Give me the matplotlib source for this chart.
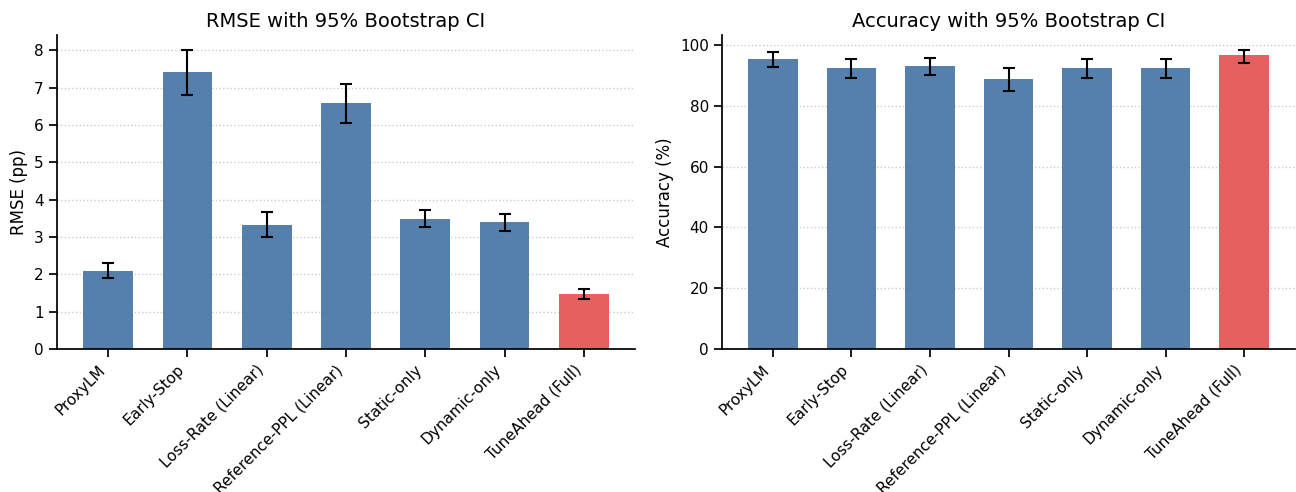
import numpy as np
import matplotlib
matplotlib.use("Agg")
import matplotlib.pyplot as plt


# -----------------------------
# Dados
# -----------------------------
methods = ["ProxyLM", "Early-Stop", "Loss-Rate (Linear)", "Reference-PPL (Linear)",
           "Static-only", "Dynamic-only", "TuneAhead (Full)"]

rmse = [2.10, 7.41, 3.33, 6.58, 3.49, 3.39, 1.46]
rmse_lo = [1.91, 6.81, 2.99, 6.05, 3.28, 3.15, 1.34]
rmse_hi = [2.31, 8.01, 3.66, 7.10, 3.71, 3.61, 1.60]

acc = [95.3, 92.4, 93.0, 88.8, 92.4, 92.4, 96.6]
acc_lo = [92.8, 89.1, 90.1, 85.0, 89.1, 89.1, 94.2]
acc_hi = [97.7, 95.4, 95.9, 92.5, 95.4, 95.4, 98.4]

BLUE = "#4C78A8"
RED = "#E45756"

W, H = 1296, 492


def plot_painel(ax, vals, lo, hi, title, ylabel):
    vals = np.array(vals)
    err = np.array([vals - np.array(lo), np.array(hi) - vals])
    x = np.arange(len(methods))
    cores = [BLUE] * (len(methods) - 1) + [RED]
    ax.bar(x, vals, width=0.63, color=cores, alpha=0.95, zorder=2)
    ax.errorbar(x, vals, yerr=err, fmt="none", ecolor="black", elinewidth=1.5,
                capsize=4, capthick=1.5, zorder=3)
    ax.set_title(title, fontsize=14)
    ax.set_ylabel(ylabel, fontsize=12)
    ax.set_xticks(x)
    ax.set_xticklabels(methods, rotation=45, ha="right", fontsize=11)
    ax.tick_params(axis="both", length=6, width=1.25)
    ax.tick_params(axis="y", labelsize=11)
    ax.grid(axis="y", linestyle=":", color="#cccccc", linewidth=1, zorder=0)
    ax.spines["top"].set_visible(False)
    ax.spines["right"].set_visible(False)
    for s in ("left", "bottom"):
        ax.spines[s].set_linewidth(1.25)


fig = plt.figure(figsize=(W / 100, H / 100), dpi=100)
ax1 = fig.add_axes([57 / W, 143 / H, 578 / W, 314 / H])
ax2 = fig.add_axes([722 / W, 143 / H, 573 / W, 314 / H])
plot_painel(ax1, rmse, rmse_lo, rmse_hi, "RMSE with 95% Bootstrap CI", "RMSE (pp)")
plot_painel(ax2, acc, acc_lo, acc_hi, "Accuracy with 95% Bootstrap CI", "Accuracy (%)")
plt.savefig("out.png", dpi=100)
plt.close()
